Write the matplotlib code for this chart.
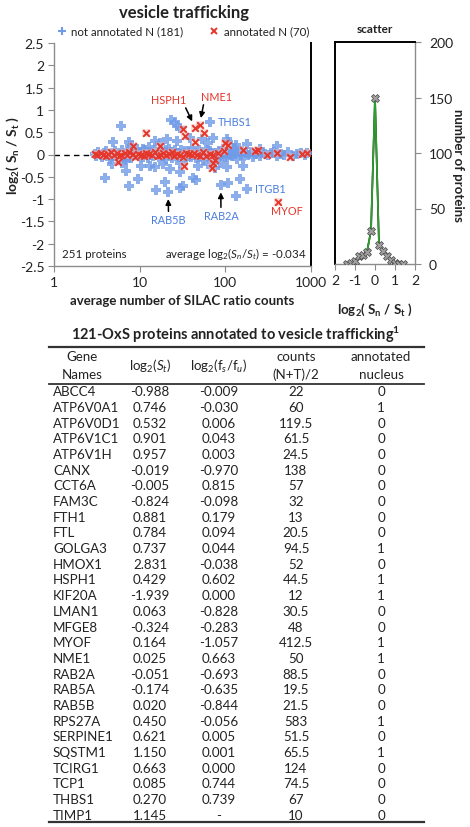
import matplotlib

matplotlib.use("Agg")
import matplotlib.pyplot as plt  # noqa: E402
from matplotlib.lines import Line2D  # noqa: E402
import numpy as np  # noqa: E402

# --------------------------------------------------------------------------- #
# Data
# --------------------------------------------------------------------------- #

# not annotated to nucleus (blue): average SILAC ratio counts vs log2(Sn/St)
blue_x = [
    6.0, 23, 26, 27.5, 29.5, 67, 4.9, 7.6, 8.1, 11.0,
    15.1, 17.3, 21, 27, 38.6, 54, 63, 72, 104, 108,
    135, 177, 253, 400, 7.7, 13, 20.5,
    3.9, 4.7, 7.0, 7.6, 9.6, 10.5, 6.2, 15.1, 15.5, 21.5,
    19.9, 18.9, 22.6, 29.5, 29.5, 29.5, 32.2, 42, 46, 48,
    63, 76, 86.5, 88.5, 108, 104, 162, 148, 135, 177,
    13.2, 7.0,
    3.0, 3.1, 3.3, 3.5, 3.6, 3.8, 4.0, 4.1, 4.4, 4.5,
    4.8, 5.0, 5.2, 5.5, 5.7, 5.9, 6.3, 6.5, 6.8, 7.1,
    7.3, 7.7, 8.0, 8.4, 8.6, 9.1, 9.4, 9.9, 10.2, 10.8,
    11.1, 11.7, 12.0, 12.6, 13.1, 13.7, 14.2, 14.9, 15.4, 16.2,
    16.8, 17.5, 18.2, 18.6, 19.3, 20.1, 21.0, 21.8, 22.4, 23.3,
    24.1, 25.0, 25.9, 26.9, 28.1, 28.8, 30.0, 31.2, 32.5, 33.7,
    35.0, 36.4, 37.8, 39.5, 40.8, 42.5, 44.0, 45.9, 47.2, 49.1,
    51.0, 53.3, 55.0, 57.6, 59.8, 62.2, 64.5, 66.9, 69.8, 72.5,
    75.1, 78.3, 81.0, 84.6, 87.2, 90.9, 94.0, 97.8, 101, 105,
    110, 114, 119, 126, 131, 138, 144, 152, 158, 167,
    175, 186, 197, 208, 221, 236, 252, 268, 290, 312,
    338, 366, 402, 445, 490, 545, 610, 680, 760, 850,
    905, 128,
]
blue_y = [
    0.63, 0.77, 0.72, 0.64, 0.59, 0.739, 0.27, 0.27, 0.19, 0.12,
    0.31, 0.25, 0.34, 0.31, 0.38, 0.34, 0.25, 0.37, 0.34, 0.29,
    0.22, 0.23, 0.12, 0.19, 0.19, 0.179, 0.094,
    -0.53, -0.22, -0.37, -0.70, -0.55, -0.25, -0.18, -0.29, -0.80, -0.844,
    -0.61, -0.22, -0.33, -0.18, -0.40, -0.74, -0.70, -0.52, -0.58, -0.25,
    -0.22, -0.31, -0.18, -0.693, -0.65, -0.29, -0.25, -0.55, -0.93, -0.78,
    -0.26, -0.15,
    0.02, -0.03, 0.05, 0.00, -0.06, 0.03, 0.08, -0.02, 0.01, -0.09,
    0.04, -0.04, 0.07, 0.00, -0.07, 0.02, 0.10, -0.03, 0.01, -0.05,
    0.06, 0.03, -0.08, 0.00, 0.04, -0.02, 0.12, -0.04, 0.01, -0.05,
    0.09, -0.02, 0.03, -0.08, 0.05, 0.00, -0.04, 0.11, -0.01, 0.06,
    -0.06, 0.02, 0.08, -0.03, 0.00, -0.09, 0.04, 0.13, -0.02, 0.05,
    -0.07, 0.01, 0.09, -0.04, 0.03, -0.06, 0.10, 0.00, -0.03, 0.07,
    -0.10, 0.02, 0.05, -0.05, 0.14, -0.01, 0.04, -0.08, 0.00, 0.09,
    -0.03, 0.06, -0.12, 0.02, 0.11, -0.04, 0.01, 0.07, -0.07, 0.03,
    -0.02, 0.04, -0.06, 0.08, 0.00, -0.03, 0.12, -0.05, 0.04, -0.06,
    0.08, 0.00, -0.03, 0.12, 0.02, -0.09, 0.05, -0.02, 0.07, -0.04,
    0.03, 0.00, 0.05, -0.05, 0.02, 0.06, -0.03, 0.04, 0.01, -0.02,
    0.03, 0.05, -0.04, 0.02, 0.00, 0.06, -0.03, 0.02, 0.04, -0.01,
    0.03, 0.15,
]

# annotated to nucleus (red)
red_x = [
    11.8, 32, 44.5, 50, 56, 34, 44, 100, 96, 5.6,
    33, 76, 72, 412.5, 8.4, 17.3, 108, 69, 241, 303,
    398, 565, 776, 890, 162, 223,
    3.0, 3.2, 3.5, 3.7, 4.0, 4.3, 4.6, 5.0, 5.4, 5.8,
    6.1, 6.7, 7.2, 7.6, 8.3, 8.8, 9.5, 10.3, 11.2, 12.0,
    13.0, 13.9, 15.0, 16.2, 17.6, 18.7, 20.2, 21.9, 23.8, 25.4,
    27.6, 29.5, 32.0, 34.8, 37.2, 40.5, 43.1, 47.0, 50.5, 55.2,
    60.0, 65.5, 71.0, 82.0,
]
red_y = [
    0.49, 0.57, 0.602, 0.663, 0.49, 0.41, 0.28, 0.25, 0.08, -0.16,
    -0.25, -0.13, -0.18, -1.057, 0.19, 0.19, 0.22, -0.30, 0.10, 0.00,
    0.04, -0.05, 0.02, 0.04, 0.11, 0.07,
    0.01, -0.02, 0.03, 0.00, -0.04, 0.02, 0.05, -0.01, 0.03, -0.03,
    0.00, 0.04, -0.02, 0.06, 0.01, -0.05, 0.02, 0.00, -0.03, 0.04,
    0.02, -0.01, 0.05, -0.04, 0.00, 0.03, -0.02, 0.01, 0.06, -0.03,
    0.02, 0.00, -0.05, 0.04, 0.01, -0.02, 0.03, 0.00, -0.04, 0.05,
    -0.03, 0.02, -0.01, 0.04,
]

# labelled proteins: (name, counts, log2, colour key)
labelled = [
    ("HSPH1", 44.5, 0.602, "red"),
    ("NME1", 50, 0.663, "red"),
    ("THBS1", 67, 0.739, "blue"),
    ("RAB5B", 21.5, -0.844, "blue"),
    ("RAB2A", 88.5, -0.693, "blue"),
    ("ITGB1", 177, -0.78, "blue"),
    ("MYOF", 412.5, -1.057, "red"),
]

# side histogram ("scatter")
hist_x = [-1.4, -1.2, -1.0, -0.8, -0.6, -0.4, -0.2, 0.0, 0.2, 0.4, 0.6, 0.8, 1.0, 1.2, 1.4]
hist_n = [0, 1, 3, 7, 8, 11, 30, 150, 17, 12, 7, 4, 1, 0, 0]

y_ticks = [-2.5, -2, -1.5, -1, -0.5, 0, 0.5, 1, 1.5, 2, 2.5]
y_tick_labels = ["-2.5", "-2", "-1.5", "-1", "-0.5", "0", "0.5", "1", "1.5", "2", "2.5"]
x_ticks = [1, 10, 100, 1000]
x_tick_labels = ["1", "10", "100", "1000"]
hist_xticks = [-2, -1, 0, 1, 2]
hist_xtick_labels = ["2", "-1", "0", "1", "2"]
hist_yticks = [0, 50, 100, 150, 200]

# table
genes = ["ABCC4", "ATP6V0A1", "ATP6V0D1", "ATP6V1C1", "ATP6V1H", "CANX", "CCT6A",
         "FAM3C", "FTH1", "FTL", "GOLGA3", "HMOX1", "HSPH1", "KIF20A", "LMAN1",
         "MFGE8", "MYOF", "NME1", "RAB2A", "RAB5A", "RAB5B", "RPS27A", "SERPINE1",
         "SQSTM1", "TCIRG1", "TCP1", "THBS1", "TIMP1"]
log2_st = ["-0.988", "0.746", "0.532", "0.901", "0.957", "-0.019", "-0.005",
           "-0.824", "0.881", "0.784", "0.737", "2.831", "0.429", "-1.939", "0.063",
           "-0.324", "0.164", "0.025", "-0.051", "-0.174", "0.020", "0.450", "0.621",
           "1.150", "0.663", "0.085", "0.270", "1.145"]
log2_fsfu = ["-0.009", "-0.030", "0.006", "0.043", "0.003", "-0.970", "0.815",
             "-0.098", "0.179", "0.094", "0.044", "-0.038", "0.602", "0.000", "-0.828",
             "-0.283", "-1.057", "0.663", "-0.693", "-0.635", "-0.844", "-0.056", "0.005",
             "0.001", "0.000", "0.744", "0.739", "-"]
counts_nt = ["22", "60", "119.5", "61.5", "24.5", "138", "57", "32", "13", "20.5",
             "94.5", "52", "44.5", "12", "30.5", "48", "412.5", "50", "88.5", "19.5",
             "21.5", "583", "51.5", "65.5", "124", "74.5", "67", "10"]
nucleus = [0, 1, 0, 0, 0, 0, 0, 0, 0, 0, 1, 0, 1, 1, 0, 0, 1, 1, 0, 0, 0, 1, 0, 1, 0, 0, 0, 0]

# --------------------------------------------------------------------------- #
# Style
# --------------------------------------------------------------------------- #

plt.rcParams["font.family"] = ["Lato", "DejaVu Sans"]
plt.rcParams["mathtext.fontset"] = "custom"
plt.rcParams["mathtext.rm"] = "Lato"
plt.rcParams["mathtext.it"] = "Lato:italic"
plt.rcParams["mathtext.bf"] = "Lato:bold"
plt.rcParams["axes.unicode_minus"] = False

BLUE = "#6f9be8"
BLUE_TXT = "#4a7ddf"
RED = "#e5362b"
GRAY = "#8c8c8c"
TXT = "#222222"

W, H = 470, 828
fig = plt.figure(figsize=(W / 100, H / 100), dpi=100)


def fx(px):
    return px / W


def fy(py):
    return 1 - py / H


# --------------------------------------------------------------------------- #
# Main scatter
# --------------------------------------------------------------------------- #

ax = fig.add_axes([fx(54), fy(267), fx(311) - fx(54), fy(44) - fy(267)])
ax.set_xscale("log")
ax.set_xlim(1, 1000)
ax.set_ylim(-2.5, 2.5)
ax.axhline(0, color="black", lw=1, ls=(0, (4, 3)), zorder=2)

ax.scatter(blue_x, blue_y, marker="P", s=60, color=BLUE, alpha=0.8,
           linewidths=0, zorder=3)
ax.scatter(red_x, red_y, marker="s", s=30, color="#f6b9b3", alpha=0.45,
           linewidths=0, zorder=4)
ax.scatter(red_x, red_y, marker="x", s=22, color=RED, linewidths=1.4, zorder=5)

ax.set_xticks(x_ticks)
ax.set_xticklabels(x_tick_labels)
ax.xaxis.set_minor_locator(matplotlib.ticker.NullLocator())
ax.set_yticks(y_ticks)
ax.set_yticklabels(y_tick_labels)
ax.tick_params(direction="out", length=4, color=GRAY, labelsize=10,
               labelcolor=TXT, pad=3)
ax.tick_params(axis="x", pad=3)
ax.spines["top"].set_visible(False)
ax.spines["right"].set_color("black")
ax.spines["right"].set_linewidth(1.4)
for s in ("left", "bottom"):
    ax.spines[s].set_color(GRAY)
    ax.spines[s].set_linewidth(1)

ax.set_xlabel("average number of SILAC ratio counts", fontsize=9.5,
              fontweight="bold", color=TXT)
ax.xaxis.set_label_coords(0.5, -0.125)
ax.set_ylabel(r"log$_\mathbf{2}$( S$_\mathbf{n}$ / S$_\mathbf{t}$ )", fontsize=10,
              fontweight="bold", color=TXT)
ax.yaxis.set_label_coords(-0.128, 0.5)

fig.text(fx(184), fy(13), "vesicle trafficking", ha="center", va="center",
         fontsize=12, fontweight="bold", color=TXT)

handles = [
    Line2D([], [], ls="none", marker="+", ms=6, mew=1.5, color=BLUE),
    Line2D([], [], ls="none", marker="x", ms=4.5, mew=1.4, color=RED),
]
ax.legend(handles, ["not annotated N (181)", "annotated N (70)"], ncol=2,
          loc="lower center", bbox_to_anchor=(0.5, 1.0), frameon=False,
          fontsize=8.3, handletextpad=0.3, columnspacing=2.2,
          borderaxespad=0.15, handlelength=1.0, labelcolor=TXT)

ax.text(0.031, 0.058, "251 proteins", transform=ax.transAxes, fontsize=8.3,
        color=TXT, va="center")
ax.text(0.984, 0.058, r"average log$_2$($S_n$/$S_t$) = -0.034", transform=ax.transAxes,
        fontsize=8.3, color=TXT, va="center", ha="right")

arrow = dict(arrowstyle="-|>", color="black", lw=1.1, mutation_scale=8,
             shrinkA=0, shrinkB=5)
label_pos = {
    "HSPH1": (21.7, 1.23, dict(relpos=(0.95, 0.0))),
    "NME1": (78.7, 1.30, dict(relpos=(0.1, 0.0))),
    "RAB5B": (21.7, -1.46, dict(relpos=(0.5, 1.0))),
    "RAB2A": (88.9, -1.37, dict(relpos=(0.5, 1.0))),
}
plain_pos = {
    "THBS1": (82, 0.74, "left"),
    "ITGB1": (221, -0.76, "left"),
    "MYOF": (516, -1.25, "center"),
}
LBL_FS = 7.8
for name, cx, cy, key in labelled:
    col = RED if key == "red" else BLUE_TXT
    if name in label_pos:
        tx, ty, extra = label_pos[name]
        ap = dict(arrow)
        ap.update(extra)
        ax.annotate(name, xy=(cx, cy), xytext=(tx, ty), ha="center", va="center",
                    fontsize=LBL_FS, color=col, arrowprops=ap, zorder=6)
    else:
        tx, ty, ha = plain_pos[name]
        ax.text(tx, ty, name, ha=ha, va="center", fontsize=LBL_FS, color=col, zorder=6)

# --------------------------------------------------------------------------- #
# Side histogram
# --------------------------------------------------------------------------- #

ax2 = fig.add_axes([fx(335), fy(265), fx(415) - fx(335), fy(43) - fy(265)])
ax2.set_xlim(-2, 2)
ax2.set_ylim(0, 200)
hx = np.array(hist_x)
hn = np.array(hist_n)
ax2.plot(hx, hn, color="black", lw=1.2, zorder=2)
core = np.abs(hx) <= 0.41
ax2.plot(hx[core], hn[core], color="#2e9e2e", lw=1.3, zorder=3)
ax2.plot(hx, hn, ls="none", marker="X", ms=6, mfc="#a0a0a0", mec="#444444",
         mew=0.5, zorder=4)
ax2.yaxis.tick_right()
ax2.yaxis.set_label_position("right")
ax2.set_xticks(hist_xticks)
ax2.set_xticklabels(hist_xtick_labels)
ax2.set_yticks(hist_yticks)
ax2.tick_params(direction="out", length=4, color=GRAY, labelsize=10,
                labelcolor=TXT, pad=3)
ax2.tick_params(axis="y", pad=6)
ax2.tick_params(axis="x", pad=3)
for s in ("left", "top"):
    ax2.spines[s].set_color("black")
    ax2.spines[s].set_linewidth(1.4)
for s in ("right", "bottom"):
    ax2.spines[s].set_color(GRAY)
    ax2.spines[s].set_linewidth(1)
ax2.set_title("scatter", fontsize=8.5, fontweight="bold", color=TXT, pad=7)
ax2.set_xlabel(r"log$_\mathbf{2}$( S$_\mathbf{n}$ / S$_\mathbf{t}$ )", fontsize=9.5,
               fontweight="bold", color=TXT)
ax2.xaxis.set_label_coords(0.5, -0.165)
ax2.set_ylabel("number of proteins", fontsize=9.5, fontweight="bold", color=TXT,
               rotation=-90, va="center")
ax2.yaxis.set_label_coords(1.54, 0.45)

# --------------------------------------------------------------------------- #
# Table
# --------------------------------------------------------------------------- #

FS = 9.6
fig.text(fx(236), fy(335), r"121-OxS proteins annotated to vesicle trafficking$^\mathbf{1}$",
         ha="center", va="center", fontsize=10.5, fontweight="bold", color=TXT)


def hline(y, lw):
    fig.add_artist(Line2D([fx(49), fx(424)], [fy(y), fy(y)], transform=fig.transFigure,
                          color="#333333", lw=lw))


hline(348, 1.6)
hline(385, 1.3)
hline(823, 1.6)

col_c = [82, 150, 219, 296, 381]
head_top = ["Gene", None, None, "counts", "annotated"]
head_bot = ["Names", None, None, "(N+T)/2", "nucleus"]
for cx, t, b in zip(col_c, head_top, head_bot):
    if t is not None:
        fig.text(fx(cx), fy(357), t, ha="center", va="center", fontsize=FS, color=TXT)
        fig.text(fx(cx), fy(375), b, ha="center", va="center", fontsize=FS, color=TXT)
fig.text(fx(col_c[1]), fy(366), r"log$_2$($S_t$)", ha="center", va="center",
         fontsize=FS, color=TXT)
fig.text(fx(col_c[2]), fy(366), r"log$_2$(f$_s$/f$_u$)", ha="center", va="center",
         fontsize=FS, color=TXT)

for i, g in enumerate(genes):
    y = 392.3 + i * 15.68
    fig.text(fx(53), fy(y), g, ha="left", va="center", fontsize=FS, color=TXT)
    fig.text(fx(col_c[1]), fy(y), log2_st[i], ha="center", va="center", fontsize=FS, color=TXT)
    fig.text(fx(col_c[2]), fy(y), log2_fsfu[i], ha="center", va="center", fontsize=FS, color=TXT)
    fig.text(fx(col_c[3]), fy(y), counts_nt[i], ha="center", va="center", fontsize=FS, color=TXT)
    fig.text(fx(col_c[4]), fy(y), str(nucleus[i]), ha="center", va="center", fontsize=FS, color=TXT)

fig.savefig("out.png", dpi=100, facecolor="white")
